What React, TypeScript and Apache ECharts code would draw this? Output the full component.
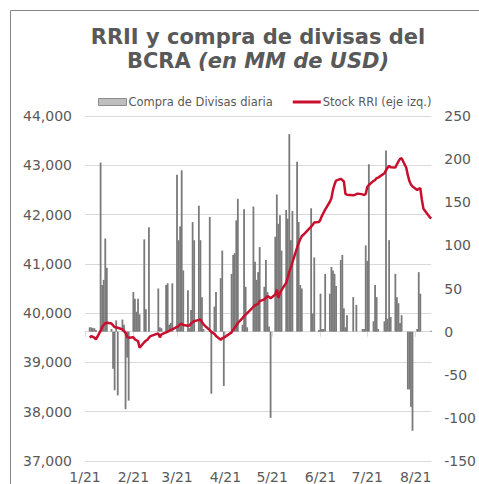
import React, { useEffect, useRef } from "react";
import * as echarts from "echarts";

// Business days (MM-DD, 2021)
const dates = [
  "01-04","01-05","01-06","01-07","01-08","01-11","01-12","01-13","01-14","01-15",
  "01-18","01-19","01-20","01-21","01-22","01-25","01-26","01-27","01-28","01-29",
  "02-01","02-02","02-03","02-04","02-05","02-08","02-09","02-10","02-11","02-12",
  "02-17","02-18","02-19","02-22","02-23","02-24","02-25","02-26",
  "03-01","03-02","03-03","03-04","03-05","03-08","03-09","03-10","03-11","03-12",
  "03-15","03-16","03-17","03-18","03-19","03-22","03-23","03-25","03-26",
  "03-29","03-30","03-31",
  "04-05","04-06","04-07","04-08","04-09","04-12","04-13","04-14","04-15","04-16",
  "04-19","04-20","04-21","04-22","04-23","04-26","04-27","04-28","04-29","04-30",
  "05-03","05-04","05-05","05-06","05-07","05-10","05-11","05-12","05-13","05-14",
  "05-17","05-18","05-19","05-20","05-21","05-26","05-27","05-28","05-31",
  "06-01","06-02","06-03","06-04","06-07","06-08","06-09","06-10","06-11",
  "06-14","06-15","06-16","06-17","06-18","06-22","06-23","06-24","06-25",
  "06-28","06-29","06-30",
  "07-01","07-02","07-05","07-06","07-07","07-08","07-12","07-13","07-14","07-15","07-16",
  "07-19","07-20","07-21","07-22","07-23","07-26","07-27","07-28","07-29","07-30",
  "08-02","08-03","08-04","08-05","08-06","08-09","08-10","08-11",
];

// Compra de Divisas diaria (MM USD, right axis)
const compras = [
  5,5,4,4,2,196,54,60,108,74,
  3,-43,-68,13,-74,14,8,-90,-30,-80,
  46,38,23,38,20,107,26,0,121,0,
  50,5,4,54,56,8,10,56,
  182,106,122,187,71,48,4,25,127,106,
  146,106,40,3,0,133,-72,29,46,
  62,94,-63,
  67,89,91,129,154,8,142,52,5,0,
  145,81,60,69,98,52,83,46,6,-100,
  110,159,125,135,94,141,131,229,106,140,
  197,127,54,50,0,143,21,86,2,
  44,3,3,67,44,75,71,67,53,
  83,89,27,5,19,40,0,31,0,
  3,3,100,
  82,194,12,54,40,3,12,210,15,106,17,
  67,40,33,10,19,0,-67,-67,-87,-115,
  3,69,44,0,0,0,0,1,
];

// Stock RRI (MM USD, left axis)
const stock = [
  39502,39535,39520,39502,39468,39640,39717,39760,39798,39805,
  39790,39750,39717,39710,39704,39670,39640,39600,39520,39502,
  39510,39468,39450,39434,39300,39410,39440,39460,39500,39535,
  39590,39510,39569,39610,39622,39640,39660,39670,
  39720,39740,39771,39785,39760,39745,39751,39790,39815,39838,
  39860,39872,39820,39771,39740,39655,39620,39580,39535,
  39460,39490,39502,
  39610,39660,39704,39750,39800,39900,39939,39970,40000,40030,
  40130,40160,40175,40190,40243,40280,40310,40344,40330,40300,
  40378,40479,40311,40412,40470,40614,40720,40840,40930,41030,
  41330,41420,41500,41560,41590,41755,41790,41840,41850,
  41900,41980,42040,42100,42260,42330,42500,42610,42690,
  42725,42700,42671,42420,42402,42390,42400,42416,42425,
  42410,42395,42420,
  42560,42600,42685,42700,42739,42750,42840,42900,42950,42988,42960,
  42954,43020,43080,43130,43143,42950,42800,42680,42610,42570,
  42500,42520,42536,42300,42120,41990,41950,41920,
];

const monthStarts = ["01-01","02-01","03-01","04-01","05-01","06-01","07-01","08-01"];
const monthLabels = ["1/21","2/21","3/21","4/21","5/21","6/21","7/21","8/21"];
const leftTicks = { min: 37000, max: 44000, interval: 1000 };
const rightTicks = { min: -150, max: 250, interval: 50 };

const FONT = "DejaVu Sans, Verdana, sans-serif";
const TXT = "#595959";
const RED = "#c8102e";

function dayOf(md: string): number {
  const [m, d] = md.split("-").map(Number);
  return Math.round((Date.UTC(2021, m - 1, d) - Date.UTC(2021, 0, 1)) / 86400000);
}

export default function App() {
  const ref = useRef<HTMLDivElement>(null);
  useEffect(() => {
    document.body.style.margin = "0";
    if (!ref.current) return;
    const chart = echarts.init(ref.current, undefined, { renderer: "svg" });
    const tickDays = monthStarts.map(dayOf);
    const barData = dates.map((d, i) => [dayOf(d), compras[i]]);
    const lineData = dates.map((d, i) => [dayOf(d), stock[i]]);
    chart.setOption({
      animation: false,
      backgroundColor: "#ffffff",
      textStyle: { fontFamily: FONT },
      graphic: [
        {
          type: "rect",
          z: -10,
          shape: { x: 10.5, y: 10.5, width: 700, height: 700 },
          style: { fill: "none", stroke: "#868686", lineWidth: 1 },
          silent: true,
        },
        {
          type: "text",
          x: 258,
          y: 26,
          style: {
            text: "RRII y compra de divisas del",
            fill: TXT,
            font: `bold 21px ${FONT}`,
            align: "center",
            verticalAlign: "top",
          },
        },
        {
          type: "text",
          x: 258,
          y: 50,
          style: {
            text: "{a|BCRA }{b|(en MM de USD)}",
            align: "center",
            verticalAlign: "top",
            rich: {
              a: { fontFamily: FONT, fontSize: 21, fontWeight: "bold", fill: TXT, color: TXT },
              b: { fontFamily: FONT, fontSize: 21, fontWeight: "bold", fontStyle: "italic", fill: TXT, color: TXT },
            },
          },
        },
      ],
      legend: {
        left: 93,
        top: 91,
        itemWidth: 28,
        itemHeight: 7,
        itemGap: 20,
        textStyle: { color: TXT, fontSize: 11.5, fontFamily: FONT, padding: [0, 0, 0, -3] },
        data: [
          { name: "Compra de Divisas diaria", icon: "rect", itemStyle: { color: "#bfbfbf", borderColor: "#8c8c8c", borderWidth: 1 } },
          { name: "Stock RRI (eje izq.)", icon: "path://M0,0L28,0L28,3L0,3Z", itemStyle: { color: RED } },
        ],
      },
      grid: { left: 85, right: 42, top: 116, bottom: 22, containLabel: false },
      xAxis: {
        type: "value",
        min: 0,
        max: 222,
        splitLine: { show: false },
        axisLine: { show: true, lineStyle: { color: "#d9d9d9", width: 1 } },
        axisTick: { show: true, customValues: tickDays, length: 5, lineStyle: { color: "#d9d9d9" } },
        axisLabel: {
          customValues: tickDays,
          color: TXT,
          fontSize: 14,
          fontFamily: FONT,
          margin: 9,
          formatter: (v: number) => monthLabels[tickDays.indexOf(Math.round(v))] ?? "",
        },
      },
      yAxis: [
        {
          type: "value",
          position: "left",
          min: leftTicks.min,
          max: leftTicks.max,
          interval: leftTicks.interval,
          axisLine: { show: false },
          axisTick: { show: false },
          splitLine: { show: true, lineStyle: { color: "#d9d9d9", width: 1 } },
          axisLabel: {
            color: TXT,
            fontSize: 14,
            fontFamily: FONT,
            margin: 13,
            formatter: (v: number) => v.toLocaleString("en-US"),
          },
        },
        {
          type: "value",
          position: "right",
          min: rightTicks.min,
          max: rightTicks.max,
          interval: rightTicks.interval,
          axisLine: { show: false },
          axisTick: { show: false },
          splitLine: { show: false },
          axisLabel: { color: TXT, fontSize: 14, fontFamily: FONT, margin: 13 },
        },
      ],
      series: [
        {
          name: "Compra de Divisas diaria",
          type: "bar",
          yAxisIndex: 1,
          data: barData,
          barWidth: 1.8,
          itemStyle: { color: "#7a7a7a" },
          z: 2,
        },
        {
          name: "Stock RRI (eje izq.)",
          type: "line",
          yAxisIndex: 0,
          data: lineData,
          showSymbol: false,
          symbol: "none",
          lineStyle: { color: RED, width: 2.5 },
          itemStyle: { color: RED },
          z: 3,
        },
      ],
    });
    return () => chart.dispose();
  }, []);
  return <div ref={ref} style={{ width: 479, height: 484 }} />;
}
